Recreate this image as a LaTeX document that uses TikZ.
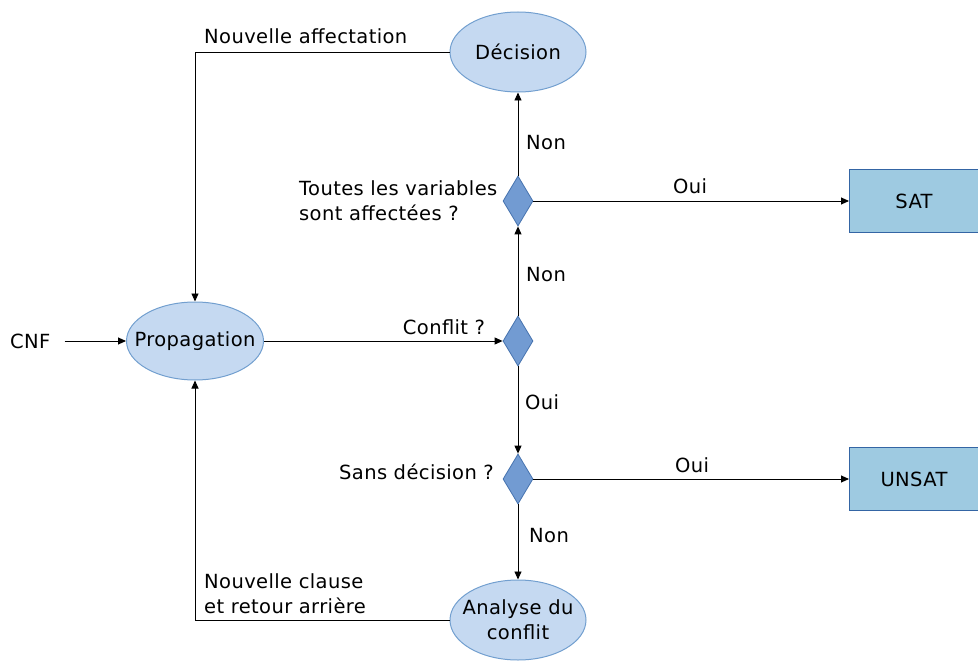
\documentclass[tikz,border=0pt]{standalone}
\usepackage{fontspec}
\setmainfont[LetterSpace=2]{DejaVu Sans}
\usetikzlibrary{shapes.geometric,arrows.meta}
\definecolor{ellfill}{RGB}{197,217,241}
\definecolor{elldraw}{RGB}{114,159,207}
\definecolor{diafill}{RGB}{114,155,210}
\definecolor{diadraw}{RGB}{70,115,175}
\definecolor{boxfill}{RGB}{158,202,225}
\definecolor{boxdraw}{RGB}{52,101,164}
\tikzset{
  every node/.style={font=\fontsize{19.5}{25}\selectfont, inner sep=0pt},
  ell/.style={ellipse, fill=ellfill, draw=elldraw, line width=1pt, minimum width=136pt, minimum height=80pt, align=center},
  dia/.style={diamond, fill=diafill, draw=diadraw, line width=0.8pt, minimum width=30pt, minimum height=50pt},
  resbox/.style={rectangle, fill=boxfill, draw=boxdraw, line width=1pt, minimum width=129pt, minimum height=63pt},
  arr/.style={draw=black, line width=0.9pt, -{Triangle[length=8pt,width=7pt]}},
  lbl/.style={anchor=west, align=left},
}
\begin{document}
\begin{tikzpicture}[x=1pt,y=-1pt]
\useasboundingbox (0,0) rectangle (978,661);
\node[ell] (dec) at (518,52) {Décision};
\node[ell, inner xsep=-12pt, minimum width=137pt, minimum height=78pt] (prop) at (195,341) {Propagation};
\node[ell, inner xsep=-14pt] (ana) at (518,620) {Analyse du\\conflit};
\node[dia] (d1) at (518,201) {};
\node[dia] (d2) at (518,341) {};
\node[dia] (d3) at (518,479) {};
\node[resbox] (sat) at (914,201) {SAT};
\node[resbox] (unsat) at (914,479) {UNSAT};
\node[anchor=west] (cnf) at (10,341) {CNF};

\draw[arr] ([xshift=14pt]cnf.east) -- (prop.west);
\draw[arr] (dec.west) -| (prop.north);
\draw[arr] (d1.north) -- (dec.south);
\draw[arr] (d1.east) -- (d1.east -| sat.west);
\draw[arr] (d2.north) -- (d1.south);
\draw[arr] (prop.east) -- (d2.west);
\draw[arr] (d2.south) -- (d3.north);
\draw[arr] (d3.east) -- (d3.east -| unsat.west);
\draw[arr] (d3.south) -- (ana.north);
\draw[arr] (ana.west) -| (prop.south);

\node[lbl] (l1) at (204,36) {Nouvelle affectation};
\node[lbl] (l2) at (526,143) {Non};
\node (l3) at (690,186) {Oui};
\node[lbl] (l4) at (299,201) {Toutes les variables\\sont affectées ?};
\node[lbl] (l5) at (526,275) {Non};
\node (l6) at (444,327) {Conflit ?};
\node[lbl] (l7) at (525,402) {Oui};
\node[anchor=east] (l8) at (494,472) {Sans décision ?};
\node (l9) at (692,465) {Oui};
\node[lbl] (l10) at (529,536) {Non};
\node[lbl] (l11) at (204,594) {Nouvelle clause\\et retour arrière};
\end{tikzpicture}
\end{document}
